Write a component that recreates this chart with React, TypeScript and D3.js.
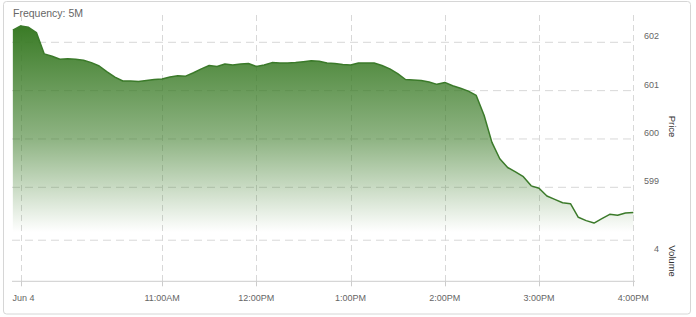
import React from "react";
import * as d3 from "d3";

const frequencyLabel = "Frequency: 5M";
const sessionDate = [2024, 5, 4];
const firstBarTime = [9, 25];
const barMinutes = 5;
const priceValues = [
  602.25, 602.34, 602.31, 602.2, 601.76, 601.71, 601.65, 601.66, 601.65, 601.63,
  601.58, 601.51, 601.39, 601.28, 601.2, 601.2, 601.19, 601.21, 601.23, 601.24,
  601.28, 601.31, 601.3, 601.37, 601.45, 601.52, 601.5, 601.55, 601.53, 601.55,
  601.56, 601.5, 601.53, 601.58, 601.57, 601.57, 601.58, 601.6, 601.62, 601.61,
  601.57, 601.56, 601.54, 601.53, 601.57, 601.57, 601.57, 601.52, 601.45, 601.35,
  601.23, 601.22, 601.21, 601.18, 601.13, 601.17, 601.1, 601.05, 600.99, 600.9,
  600.49, 599.93, 599.59, 599.41, 599.32, 599.22, 599.03, 598.98, 598.82, 598.75,
  598.68, 598.66, 598.38, 598.31, 598.26, 598.35, 598.44, 598.42, 598.47, 598.48,
];
const xTickTimes: [number, number][] = [
  [9, 30], [11, 0], [12, 0], [13, 0], [14, 0], [15, 0], [16, 0],
];
const xTickLabels = ["Jun 4", "11:00AM", "12:00PM", "1:00PM", "2:00PM", "3:00PM", "4:00PM"];
const priceTicks = [599, 600, 601, 602];
const volumeTicks = [4];
const priceAxisTitle = "Price";
const volumeAxisTitle = "Volume";

const mkDate = (h: number, m: number) =>
  new Date(sessionDate[0], sessionDate[1], sessionDate[2], h, m);

export default function App() {
  const W = 696;
  const H = 317;
  const plotLeft = 12;
  const plotRight = 635;
  const plotTop = 15;
  const axisY = 281.3;
  const priceBottom = 232;

  const x = d3
    .scaleTime()
    .domain([mkDate(9, 30), mkDate(16, 0)])
    .range([20.7, 633.3]);
  const yPrice = d3.scaleLinear().domain([599, 602]).range([187.3, 42.3]);
  const yVol = d3.scaleLinear().domain([0, 4.8]).range([axisY, priceBottom]);

  const data = priceValues.map((v, i) => ({
    t: new Date(mkDate(firstBarTime[0], firstBarTime[1]).getTime() + i * barMinutes * 60000),
    v,
  }));

  const line = d3
    .line<{ t: Date; v: number }>()
    .x((d) => x(d.t))
    .y((d) => yPrice(d.v));
  const area = d3
    .area<{ t: Date; v: number }>()
    .x((d) => x(d.t))
    .y0(priceBottom)
    .y1((d) => yPrice(d.v));

  const font = "'Liberation Sans', Arial, sans-serif";
  const gridColor = "#d8d8d8";

  return (
    <div style={{ position: "absolute", left: 0, top: 0, width: W, height: H, background: "#fff" }}>
      <svg width={W} height={H} style={{ display: "block", fontFamily: font }}>
        <defs>
          <linearGradient id="areaGrad" x1="0" y1="0" x2="0" y2="1">
            <stop offset="0" stopColor="#3a7b26" stopOpacity={1} />
            <stop offset="0.55" stopColor="#3a7b26" stopOpacity={0.57} />
            <stop offset="1" stopColor="#3a7b26" stopOpacity={0} />
          </linearGradient>
        </defs>
        <rect x={3.5} y={1.5} width={687} height={312.5} rx={3} fill="#fff" stroke="#d6d6d6" />

        <text x={13} y={17} fontSize={10.5} fill="#666">
          {frequencyLabel}
        </text>

        {/* horizontal grid lines */}
        {priceTicks.map((p) => (
          <line
            key={"hp" + p}
            x1={plotLeft}
            x2={plotRight}
            y1={yPrice(p)}
            y2={yPrice(p)}
            stroke={gridColor}
            strokeDasharray="8,5"
          />
        ))}
        {volumeTicks.map((v) => (
          <line
            key={"hv" + v}
            x1={plotLeft}
            x2={plotRight}
            y1={yVol(v)}
            y2={yVol(v)}
            stroke={gridColor}
            strokeDasharray="8,5"
          />
        ))}

        {/* vertical grid lines */}
        {xTickTimes.map(([h, m], i) => {
          const xx = Math.round(x(mkDate(h, m))) + 0.5;
          return (
            <g key={"vx" + i}>
              <line x1={xx} x2={xx} y1={plotTop} y2={axisY} stroke={gridColor} strokeDasharray="6,4" />
              <line x1={xx} x2={xx} y1={axisY} y2={axisY + 5} stroke="#ccc" />
            </g>
          );
        })}

        {/* area + line */}
        <path d={area(data) ?? ""} fill="url(#areaGrad)" />
        <path d={line(data) ?? ""} fill="none" stroke="#3b7a2a" strokeWidth={1.5} strokeLinejoin="round" />

        {/* x axis */}
        <line x1={plotLeft} x2={plotRight} y1={axisY} y2={axisY} stroke="#ccc" />
        {xTickTimes.map(([h, m], i) => (
          <text
            key={"xl" + i}
            x={x(mkDate(h, m)) + (i === 0 ? 2.8 : 0)}
            y={301}
            fontSize={9}
            fill="#666"
            textAnchor="middle"
          >
            {xTickLabels[i]}
          </text>
        ))}

        {/* price axis */}
        {priceTicks.map((p) => (
          <text key={"pl" + p} x={659} y={yPrice(p) - 3} fontSize={9} fill="#666" textAnchor="end">
            {p}
          </text>
        ))}
        {volumeTicks.map((v) => (
          <text key={"vl" + v} x={659} y={yVol(v) + 12} fontSize={9} fill="#666" textAnchor="end">
            {v}
          </text>
        ))}
        <text
          transform={`translate(669,126.5) rotate(90)`}
          fontSize={9.5}
          fill="#333"
          textAnchor="middle"
        >
          {priceAxisTitle}
        </text>
        <text
          transform={`translate(669,261) rotate(90)`}
          fontSize={9.5}
          fill="#333"
          textAnchor="middle"
        >
          {volumeAxisTitle}
        </text>
      </svg>
    </div>
  );
}
